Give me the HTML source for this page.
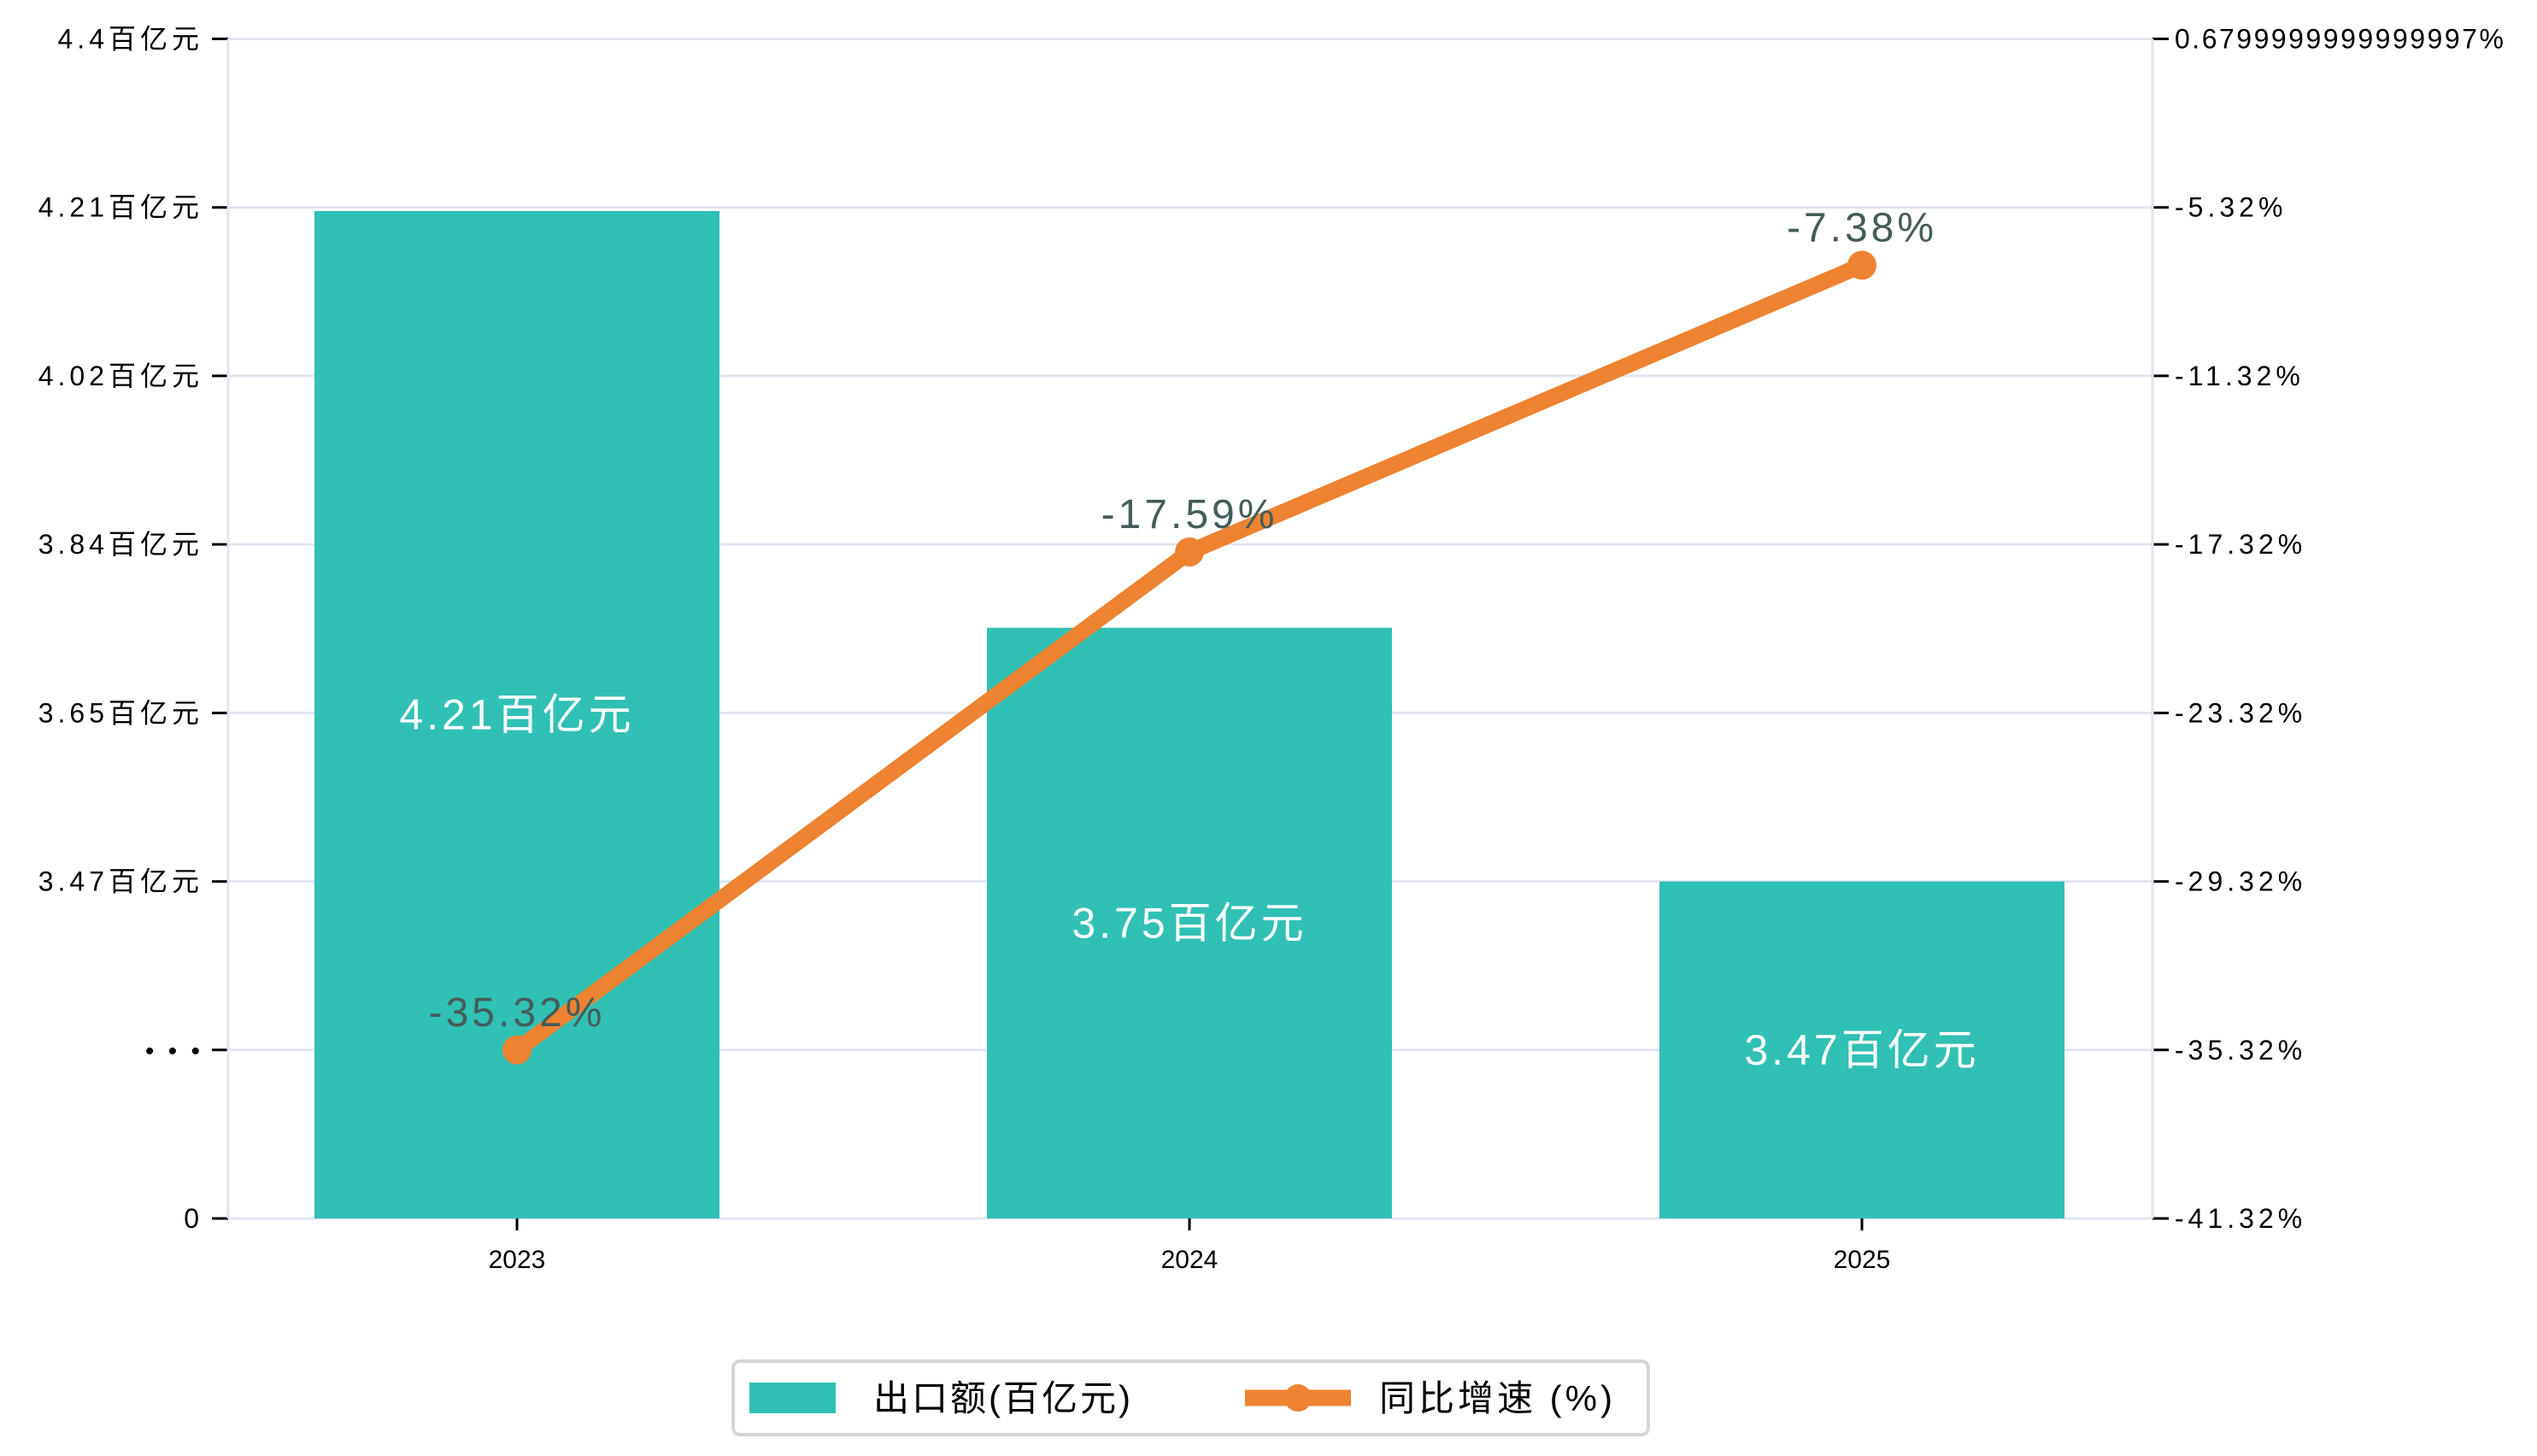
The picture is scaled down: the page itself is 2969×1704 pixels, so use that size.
<!DOCTYPE html>
<html><head><meta charset="utf-8"><style>
html,body{margin:0;padding:0;background:#fff;}
svg{display:block;font-family:"Liberation Sans","Noto Sans CJK SC",sans-serif;}
</style></head><body>
<svg id="chart" width="2969" height="1704" viewBox="0 0 2969 1704" xmlns="http://www.w3.org/2000/svg">
<g id="grid"></g>
<g id="bars"></g>
<g id="line"></g>
<g id="axes"></g>
<g id="legend">
  <rect x="858" y="1593" width="1071" height="86" rx="8" fill="#fff" stroke="#d6d6d6" stroke-width="4"/>
  <rect x="877" y="1618" width="101" height="36" fill="#31c0b4"/>
  <text x="1022" y="1651" font-size="42" letter-spacing="3" fill="#000">出口额(百亿元)</text>
  <line x1="1457" y1="1636" x2="1581" y2="1636" stroke="#ee8331" stroke-width="19"/>
  <circle cx="1519" cy="1636" r="16" fill="#ee8331"/>
  <text x="1614" y="1651" font-size="42" letter-spacing="4" fill="#000">同比增速 (%)</text>
</g>
</svg>
<script>
const categories = ["2023","2024","2025"];
const exportValues = [4.21, 3.75, 3.47];
const growthValues = [-35.32, -17.59, -7.38];
const leftTickLabels = ["0","•  •  •","3.47百亿元","3.65百亿元","3.84百亿元","4.02百亿元","4.21百亿元","4.4百亿元"];
const rightTickValues = [-41.32,-35.32,-29.32,-23.32,-17.32,-11.32,-5.32,0.68];
const rightTickLabels = ["-41.32%","-35.32%","-29.32%","-23.32%","-17.32%","-11.32%","-5.32%","0.6799999999999997%"];

const NS="http://www.w3.org/2000/svg";
const L=267,R=2519,T=45.5,B=1426;
const step=(B-T)/7;
const leftMin=3.47,leftMax=4.4;
function yLeft(v){return (B-2*step)-(v-leftMin)/(leftMax-leftMin)*5*step;}
function yRight(v){return B-(v-rightTickValues[0])/(rightTickValues[7]-rightTickValues[0])*(B-T);}
function xCat(i){return 605+i*787;}
function mk(tag,attrs,parent,text){const e=document.createElementNS(NS,tag);for(const k in attrs)e.setAttribute(k,attrs[k]);if(text!==undefined)e.textContent=text;parent.appendChild(e);return e;}
const grid=document.getElementById('grid'),bars=document.getElementById('bars'),line=document.getElementById('line'),axes=document.getElementById('axes');

for(let i=0;i<8;i++){
  const y=B-i*step;
  const g=mk('line',{x1:L,x2:R,y1:y,y2:y,stroke:'#e1e5f0','stroke-width':3},grid);
  
  
  const t=mk('line',{x1:L-19,x2:L,y1:y,y2:y,stroke:'#000','stroke-width':3},axes);
  
  
  const lt=mk('text',{x:238,y:y+11,'font-size':i===1?30:32,'letter-spacing':i===1?4:5,'text-anchor':'end',fill:'#000'},axes,leftTickLabels[i]);
  
  
  const yr=yRight(rightTickValues[i]);
  const rt=mk('line',{x1:R,x2:R+19,y1:yr,y2:yr,stroke:'#000','stroke-width':3},axes);
  
  
  const rl=mk('text',{x:2545,y:yr+11,'font-size':32,'letter-spacing':i===7?2.5:5,fill:'#000'},axes,rightTickLabels[i]);
  
  
}
const sl=mk('line',{x1:L,x2:L,y1:T,y2:B,stroke:'#e1e5f0','stroke-width':3},axes);


const sr=mk('line',{x1:R,x2:R,y1:T,y2:B,stroke:'#e1e5f0','stroke-width':3},axes);



categories.forEach((c,i)=>{
  const x=xCat(i),y=yLeft(exportValues[i]);
  const b=mk('rect',{x:x-237,y:y,width:474,height:B-y,fill:'#31c0b4'},bars);
  
  
  const bl=mk('text',{x:x,y:(y+B)/2+17,'font-size':50,'letter-spacing':4,'text-anchor':'middle',fill:'#fff'},bars,exportValues[i].toFixed(2)+'百亿元');
  
  
  const xt=mk('line',{x1:x,x2:x,y1:B,y2:B+14,stroke:'#000','stroke-width':3},axes);
  
  
  const xl=mk('text',{x:x,y:1484,'font-size':30,'text-anchor':'middle',fill:'#000'},axes,c);
  
  
});

const pts=growthValues.map((v,i)=>xCat(i)+','+yRight(v)).join(' ');
const pl=mk('polyline',{points:pts,fill:'none',stroke:'#ee8331','stroke-width':19,'stroke-linejoin':'round'},line);


growthValues.forEach((v,i)=>{
  const x=xCat(i),y=yRight(v);
  const c=mk('circle',{cx:x,cy:y,r:17,fill:'#ee8331'},line);
  
  
  const t=mk('text',{x:x,y:y-28,'font-size':48,'letter-spacing':4,'text-anchor':'middle',fill:'#455d5a'},line,v.toFixed(2)+'%');
  
  
});
</script>
</body></html>
